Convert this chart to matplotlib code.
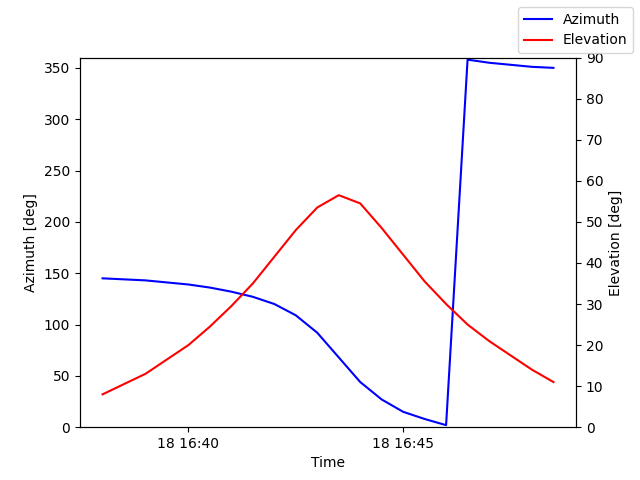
import numpy as np
import pandas as pd
import matplotlib
matplotlib.use("Agg")
import matplotlib.pyplot as plt
import matplotlib.dates as mdates

times = pd.date_range("2024-01-18 16:38:00", periods=22, freq="30s")
azimuth = [145, 144, 143, 141, 139, 136, 132, 127, 120, 109, 92, 68, 44, 27, 15, 8, 2,
           358, 355, 353, 351, 350]
elevation = [8, 10.5, 13, 16.5, 20, 24.5, 29.5, 35, 41.5, 48, 53.5, 56.5, 54.5, 48.5,
             42, 35.5, 30, 25, 21, 17.5, 14, 11]

fig, ax = plt.subplots(figsize=(6.4, 4.8), dpi=100)
ax.plot(times, azimuth, color="blue", label="Azimuth")
ax.set_ylim(0, 360)
ax.set_ylabel("Azimuth [deg]")
ax.set_xlabel("Time")
ax2 = ax.twinx()
ax2.plot(times, elevation, color="red", label="Elevation")
ax2.set_ylim(0, 90)
ax2.set_ylabel("Elevation [deg]")
ax.xaxis.set_major_locator(mdates.MinuteLocator(byminute=[40, 45]))
ax.xaxis.set_major_formatter(mdates.DateFormatter("%d %H:%M"))
fig.legend(loc="upper right")
fig.savefig("out.png")
